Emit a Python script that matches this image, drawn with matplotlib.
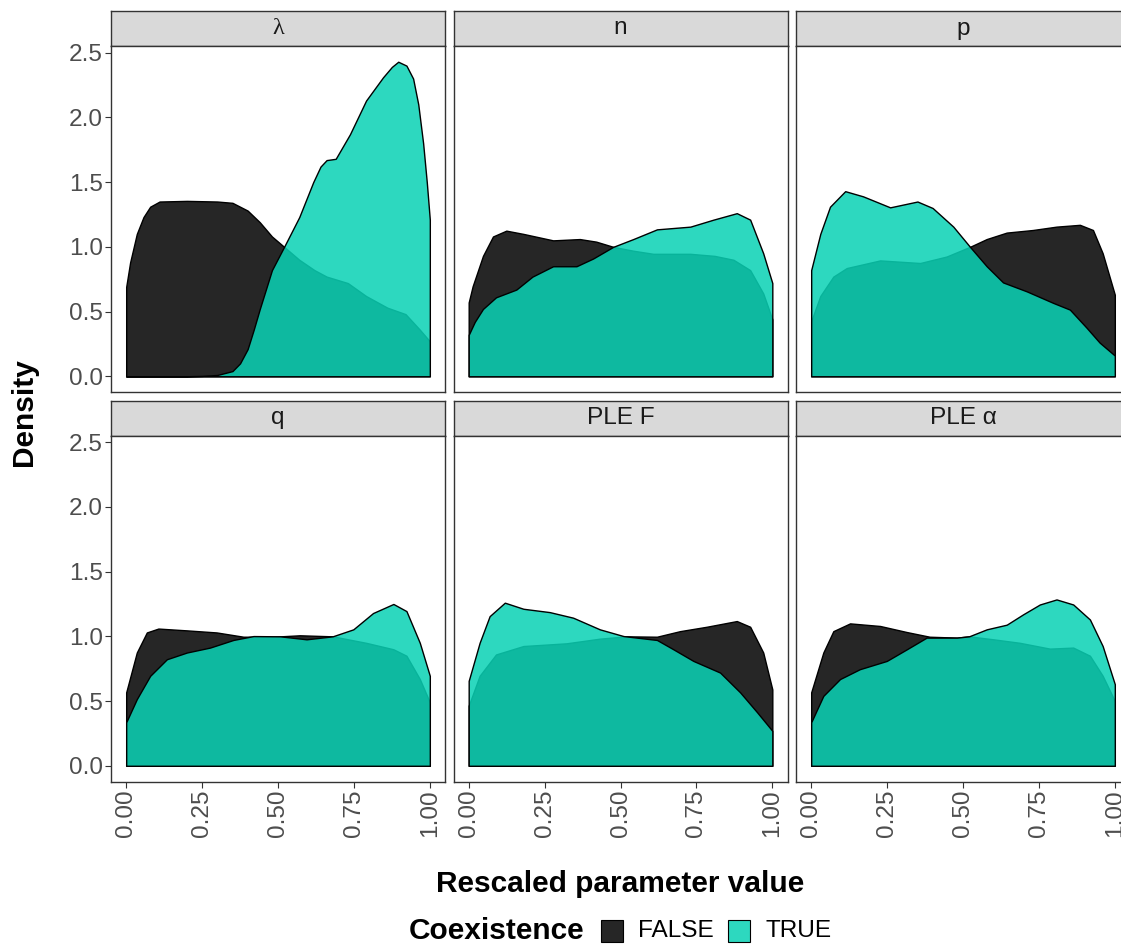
import matplotlib
matplotlib.use("Agg")
import matplotlib.pyplot as plt
from matplotlib.patches import Rectangle

plt.rcParams['font.family'] = ['Liberation Sans', 'DejaVu Sans']

# panel names, in facet order
panels = ["λ", "n", "p", "q", "PLE F", "PLE α"]

# densities: (x, y) for FALSE and TRUE in each panel
lam_false_x = [0, 0.013, 0.035, 0.057, 0.079, 0.11, 0.2, 0.3, 0.35, 0.40, 0.44, 0.48, 0.52, 0.57, 0.62, 0.66, 0.73, 0.79, 0.86, 0.92, 0.967, 1.0]
lam_false_y = [0.69, 0.88, 1.10, 1.23, 1.31, 1.35, 1.355, 1.35, 1.34, 1.28, 1.19, 1.08, 1.00, 0.90, 0.82, 0.77, 0.72, 0.62, 0.53, 0.48, 0.36, 0.27]
lam_true_x = [0, 0.1, 0.2, 0.25, 0.30, 0.35, 0.375, 0.40, 0.42, 0.44, 0.48, 0.52, 0.57, 0.616, 0.64, 0.66, 0.69, 0.737, 0.79, 0.846, 0.875, 0.896, 0.923, 0.945, 0.962, 0.978, 0.99, 1.0]
lam_true_y = [0.0, 0.0, 0.0, 0.003, 0.01, 0.04, 0.10, 0.21, 0.36, 0.52, 0.82, 1.00, 1.23, 1.50, 1.62, 1.67, 1.68, 1.87, 2.13, 2.31, 2.39, 2.43, 2.40, 2.30, 2.10, 1.80, 1.50, 1.21]

n_false_x = [0, 0.013, 0.047, 0.08, 0.124, 0.18, 0.278, 0.366, 0.42, 0.476, 0.542, 0.608, 0.73, 0.81, 0.872, 0.927, 0.97, 1.0]
n_false_y = [0.57, 0.695, 0.93, 1.08, 1.125, 1.10, 1.05, 1.06, 1.04, 1.0, 0.97, 0.946, 0.946, 0.93, 0.90, 0.82, 0.64, 0.44]
n_true_x = [0, 0.02, 0.047, 0.09, 0.157, 0.21, 0.278, 0.355, 0.41, 0.476, 0.542, 0.62, 0.73, 0.806, 0.883, 0.927, 0.97, 1.0]
n_true_y = [0.32, 0.42, 0.52, 0.61, 0.67, 0.77, 0.85, 0.85, 0.91, 1.0, 1.06, 1.135, 1.156, 1.21, 1.26, 1.21, 0.95, 0.72]

p_false_x = [0, 0.03, 0.073, 0.117, 0.227, 0.359, 0.446, 0.523, 0.578, 0.644, 0.73, 0.808, 0.885, 0.928, 0.96, 1.0]
p_false_y = [0.425, 0.62, 0.77, 0.836, 0.895, 0.875, 0.925, 1.0, 1.06, 1.11, 1.13, 1.156, 1.17, 1.13, 0.95, 0.63]
p_true_x = [0, 0.03, 0.062, 0.112, 0.171, 0.26, 0.35, 0.40, 0.468, 0.523, 0.578, 0.632, 0.71, 0.797, 0.852, 0.907, 0.95, 1.0]
p_true_y = [0.82, 1.10, 1.31, 1.43, 1.39, 1.305, 1.35, 1.30, 1.156, 1.0, 0.85, 0.725, 0.656, 0.567, 0.515, 0.375, 0.26, 0.16]

q_false_x = [0, 0.035, 0.068, 0.106, 0.2, 0.298, 0.386, 0.485, 0.572, 0.68, 0.79, 0.88, 0.923, 0.967, 1.0]
q_false_y = [0.567, 0.875, 1.03, 1.06, 1.046, 1.03, 0.997, 0.997, 1.008, 1.0, 0.95, 0.90, 0.85, 0.67, 0.49]
q_true_x = [0, 0.035, 0.079, 0.134, 0.2, 0.276, 0.353, 0.419, 0.507, 0.594, 0.68, 0.748, 0.813, 0.88, 0.923, 0.967, 1.0]
q_true_y = [0.336, 0.515, 0.695, 0.823, 0.875, 0.913, 0.972, 1.002, 1.0, 0.977, 1.0, 1.054, 1.18, 1.25, 1.195, 0.95, 0.695]

plef_false_x = [0, 0.036, 0.09, 0.18, 0.322, 0.432, 0.52, 0.62, 0.696, 0.784, 0.883, 0.927, 0.97, 1.0]
plef_false_y = [0.464, 0.695, 0.86, 0.925, 0.946, 0.982, 1.0, 0.997, 1.04, 1.074, 1.118, 1.074, 0.875, 0.59]
plef_true_x = [0, 0.036, 0.069, 0.119, 0.18, 0.267, 0.344, 0.432, 0.51, 0.62, 0.674, 0.74, 0.828, 0.894, 0.95, 1.0]
plef_true_y = [0.656, 0.95, 1.156, 1.26, 1.213, 1.187, 1.144, 1.054, 1.002, 0.972, 0.9, 0.81, 0.72, 0.567, 0.413, 0.27]

plea_false_x = [0, 0.04, 0.073, 0.128, 0.227, 0.315, 0.39, 0.48, 0.52, 0.6, 0.687, 0.786, 0.863, 0.918, 0.96, 1.0]
plea_false_y = [0.567, 0.875, 1.04, 1.10, 1.08, 1.033, 0.997, 0.99, 1.0, 0.977, 0.95, 0.905, 0.913, 0.85, 0.695, 0.50]
plea_true_x = [0, 0.04, 0.095, 0.16, 0.249, 0.315, 0.38, 0.48, 0.52, 0.578, 0.644, 0.698, 0.753, 0.808, 0.863, 0.918, 0.96, 1.0]
plea_true_y = [0.336, 0.54, 0.67, 0.746, 0.81, 0.9, 0.99, 0.99, 1.0, 1.054, 1.09, 1.17, 1.246, 1.285, 1.246, 1.13, 0.925, 0.63]

false_series = [(lam_false_x, lam_false_y), (n_false_x, n_false_y), (p_false_x, p_false_y),
                (q_false_x, q_false_y), (plef_false_x, plef_false_y), (plea_false_x, plea_false_y)]
true_series = [(lam_true_x, lam_true_y), (n_true_x, n_true_y), (p_true_x, p_true_y),
               (q_true_x, q_true_y), (plef_true_x, plef_true_y), (plea_true_x, plea_true_y)]

x_ticks = [0, 0.25, 0.5, 0.75, 1.0]
x_ticklabels = ["0.00", "0.25", "0.50", "0.75", "1.00"]
y_ticks = [0, 0.5, 1.0, 1.5, 2.0, 2.5]
y_ticklabels = ["0.0", "0.5", "1.0", "1.5", "2.0", "2.5"]

false_col = "#262626"
true_col = (10 / 255, 210 / 255, 181 / 255, 0.86)
grey20 = "#333333"
grey30 = "#4D4D4D"

W, H = 1121, 946
fig = plt.figure(figsize=(W / 100, H / 100), dpi=100)

# shared y scale, ggplot-like 5% expansion
ymax = max(max(s[1]) for s in false_series + true_series)
ylo, yhi = -0.05 * ymax, ymax * 1.05

col_left = [111, 453.5, 796]
panel_w = 334
row_strip_top = [11, 400.5]
strip_h = 35
panel_h = 346


def fbox(l, t, w, h):
    return [l / W, 1 - (t + h) / H, w / W, h / H]


for i, name in enumerate(panels):
    r, c = divmod(i, 3)
    st = row_strip_top[r]
    # strip
    sax = fig.add_axes(fbox(col_left[c], st, panel_w, strip_h))
    sax.set_facecolor("#D9D9D9")
    sax.set_xticks([])
    sax.set_yticks([])
    for sp in sax.spines.values():
        sp.set_color(grey20)
        sp.set_linewidth(1.0)
    fam = ['Liberation Serif', 'DejaVu Serif'] if name == "λ" else ['Liberation Sans', 'DejaVu Sans']
    sax.text(0.5, 0.5, name, transform=sax.transAxes, ha="center", va="center",
             fontsize=17.6, color="#1A1A1A", family=fam)

    ax = fig.add_axes(fbox(col_left[c], st + strip_h, panel_w, panel_h))
    fx, fy = false_series[i]
    tx, ty = true_series[i]
    ax.fill_between(fx, fy, 0, facecolor=false_col, edgecolor="black", linewidth=1.0, zorder=2)
    ax.fill_between(tx, ty, 0, facecolor=true_col, edgecolor="black", linewidth=1.0, zorder=3)
    ax.set_xlim(-0.05, 1.05)
    ax.set_ylim(ylo, yhi)
    for sp in ax.spines.values():
        sp.set_color(grey20)
        sp.set_linewidth(1.0)
    ax.tick_params(length=4, width=0.8, color=grey20, labelcolor=grey30, labelsize=17.6, pad=2)
    ax.set_yticks(y_ticks)
    if c == 0:
        ax.set_yticklabels(y_ticklabels)
    else:
        ax.tick_params(axis="y", left=False, labelleft=False)
    ax.set_xticks(x_ticks)
    if r == 1:
        ax.set_xticklabels(x_ticklabels, rotation=90, va="top", ha="center")
    else:
        ax.tick_params(axis="x", bottom=False, labelbottom=False)

fig.text(620 / W, 1 - 884 / H, "Rescaled parameter value", ha="center", va="center",
         fontsize=21.5, fontweight="bold")
fig.text(24 / W, 1 - 412 / H, "Density", ha="center", va="center", rotation=90,
         fontsize=21.5, fontweight="bold")

# legend
ly = 1 - 931 / H
fig.text(584 / W, ly, "Coexistence", ha="right", va="center", fontsize=21.5, fontweight="bold")
fig.patches.append(Rectangle((601 / W, 1 - 942 / H), 22 / W, 22 / H, transform=fig.transFigure,
                             facecolor=false_col, edgecolor="black", linewidth=0.8))
fig.text(638 / W, ly, "FALSE", ha="left", va="center", fontsize=17.6)
fig.patches.append(Rectangle((728 / W, 1 - 942 / H), 22 / W, 22 / H, transform=fig.transFigure,
                             facecolor=true_col, edgecolor="black", linewidth=0.8))
fig.text(766 / W, ly, "TRUE", ha="left", va="center", fontsize=17.6)

fig.savefig("out.png", dpi=100)
